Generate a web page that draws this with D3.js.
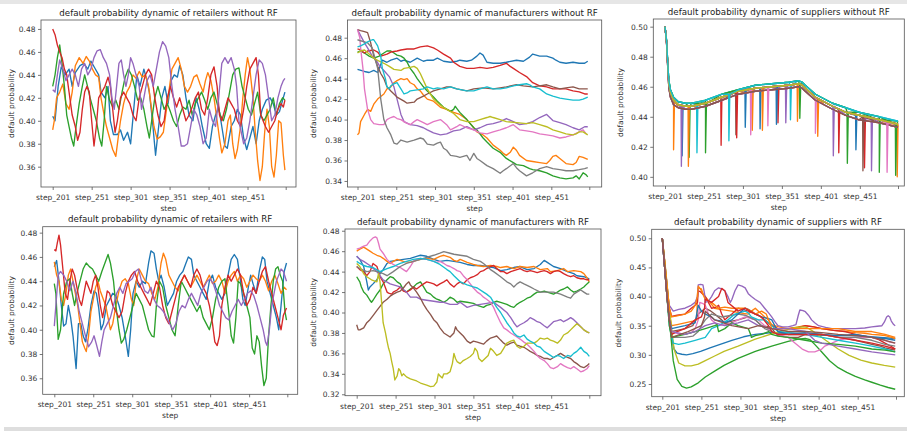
<!DOCTYPE html>
<html>
<head>
<meta charset="utf-8">
<script src="https://cdn.jsdelivr.net/npm/d3@7"></script>
<style>
  body { margin: 0; background: #fff; }
  svg { display: block; font-family: "DejaVu Sans", sans-serif; }
</style>
</head>
<body>
<div id="chart"></div>
<script>
// ---- data ([step, default probability]) ----
var tab10 = ["#1f77b4","#ff7f0e","#2ca02c","#d62728","#9467bd","#8c564b","#e377c2","#7f7f7f","#bcbd22","#17becf"];
var xTickSteps = [201, 251, 301, 351, 401, 451, 500];
var xTickLabels = ["step_201", "step_251", "step_301", "step_351", "step_401", "step_451", ""];

// retailers without RF (blue, orange, green, red, purple)
var retNoRF = [
  [[201,.404],[204,.400],[208,.430],[212,.447],[217,.440],[222,.445],[226,.430],[230,.442],[236,.448],[241,.450],[246,.445],[250,.452],[255,.446],[260,.440],[263,.425],[268,.420],[272,.430],[275,.400],[279,.388],[284,.388],[288,.392],[292,.383],[297,.390],[301,.380],[305,.410],[309,.440],[313,.430],[318,.445],[322,.435],[325,.425],[329,.400],[333,.370],[337,.395],[341,.420],[345,.430],[349,.415],[353,.435],[357,.440],[361,.438],[364,.448],[368,.440],[372,.420],[376,.405],[381,.400],[385,.420],[389,.410],[393,.395],[398,.380],[402,.376],[406,.395],[410,.405],[414,.412],[418,.395],[422,.378],[425,.376],[430,.395],[434,.400],[438,.410],[442,.405],[446,.385],[450,.375],[454,.385],[458,.395],[462,.380],[466,.400],[470,.410],[475,.418],[480,.420],[484,.415],[488,.405],[492,.408],[496,.418],[499,.425]],
  [[201,.392],[203,.400],[206,.420],[210,.425],[214,.432],[218,.415],[222,.410],[226,.425],[230,.448],[235,.455],[240,.450],[244,.456],[248,.452],[252,.445],[256,.440],[260,.438],[263,.420],[267,.405],[270,.395],[274,.385],[278,.375],[282,.369],[285,.385],[288,.400],[292,.415],[296,.425],[300,.430],[304,.440],[308,.437],[312,.443],[316,.438],[320,.440],[324,.430],[328,.410],[331,.395],[335,.384],[339,.386],[343,.390],[347,.410],[351,.430],[354,.445],[358,.450],[362,.455],[366,.445],[370,.430],[374,.425],[378,.430],[382,.438],[386,.440],[390,.432],[394,.425],[397,.435],[400,.442],[404,.435],[408,.420],[412,.400],[415,.385],[418,.372],[422,.380],[426,.400],[429,.405],[432,.380],[435,.367],[438,.375],[442,.395],[445,.420],[448,.440],[451,.455],[454,.445],[458,.420],[461,.390],[464,.365],[467,.348],[470,.360],[473,.390],[476,.410],[479,.395],[482,.360],[485,.351],[488,.370],[491,.400],[494,.398],[497,.370],[499,.357]],
  [[201,.430],[204,.440],[207,.455],[210,.466],[213,.450],[216,.430],[219,.405],[222,.395],[225,.385],[228,.378],[231,.395],[235,.415],[239,.430],[242,.440],[245,.432],[249,.420],[253,.410],[257,.400],[261,.385],[264,.378],[267,.400],[270,.430],[274,.418],[278,.412],[282,.418],[286,.410],[290,.425],[294,.438],[298,.445],[302,.440],[306,.430],[310,.418],[314,.420],[318,.410],[322,.395],[325,.385],[328,.400],[332,.420],[336,.430],[340,.420],[344,.410],[348,.415],[352,.408],[356,.400],[360,.395],[364,.405],[368,.412],[372,.410],[376,.418],[380,.405],[384,.415],[388,.420],[392,.425],[396,.418],[400,.410],[404,.420],[408,.425],[412,.415],[416,.405],[420,.400],[424,.410],[428,.425],[432,.440],[436,.445],[440,.446],[444,.430],[448,.420],[452,.410],[456,.405],[460,.415],[464,.425],[468,.405],[472,.400],[476,.405],[480,.410],[484,.420],[488,.405],[492,.415],[496,.420],[499,.418]],
  [[201,.480],[204,.475],[207,.466],[210,.460],[213,.455],[216,.445],[219,.440],[222,.425],[226,.405],[230,.395],[233,.383],[236,.390],[239,.410],[242,.425],[245,.430],[248,.425],[251,.400],[254,.378],[257,.395],[260,.420],[264,.425],[268,.430],[272,.438],[275,.430],[278,.410],[281,.390],[284,.400],[288,.420],[292,.425],[296,.420],[300,.415],[304,.405],[308,.400],[312,.420],[316,.430],[320,.440],[324,.445],[328,.440],[332,.420],[336,.405],[340,.395],[344,.400],[348,.420],[352,.430],[356,.420],[360,.412],[364,.420],[368,.410],[372,.400],[376,.405],[380,.412],[384,.420],[388,.425],[392,.410],[396,.405],[400,.420],[404,.440],[408,.447],[412,.430],[415,.405],[418,.400],[422,.410],[426,.420],[430,.415],[434,.410],[438,.400],[442,.395],[446,.410],[450,.430],[454,.445],[458,.450],[462,.455],[465,.440],[468,.405],[471,.400],[474,.395],[478,.390],[482,.395],[486,.400],[490,.410],[494,.415],[497,.412],[499,.418]],
  [[201,.427],[204,.425],[207,.440],[210,.453],[214,.445],[218,.435],[222,.440],[226,.445],[230,.440],[234,.430],[238,.445],[242,.450],[246,.440],[250,.445],[254,.455],[258,.461],[262,.462],[266,.455],[270,.450],[274,.440],[277,.420],[280,.410],[283,.430],[286,.450],[289,.453],[292,.440],[295,.430],[298,.440],[301,.455],[304,.450],[308,.440],[312,.430],[315,.410],[318,.420],[322,.435],[326,.440],[330,.430],[334,.445],[338,.460],[342,.469],[346,.465],[350,.455],[354,.430],[358,.410],[362,.395],[366,.378],[370,.378],[374,.380],[378,.395],[382,.410],[386,.405],[390,.395],[394,.380],[398,.385],[402,.410],[406,.400],[410,.395],[414,.420],[418,.450],[422,.455],[426,.450],[430,.455],[434,.445],[437,.430],[440,.400],[443,.390],[446,.380],[450,.385],[454,.400],[458,.420],[462,.440],[466,.453],[470,.450],[474,.440],[478,.420],[482,.400],[486,.405],[490,.420],[494,.430],[497,.435],[499,.437]]
];

// retailers with RF
var retRF = [
  [[201,.452],[204,.457],[207,.440],[210,.420],[213,.403],[216,.405],[219,.420],[222,.410],[225,.395],[229,.368],[232,.405],[235,.405],[238,.395],[241,.390],[244,.400],[248,.420],[252,.432],[255,.430],[258,.418],[261,.400],[264,.405],[268,.420],[272,.425],[276,.430],[280,.428],[284,.420],[288,.410],[292,.395],[296,.378],[299,.400],[302,.430],[306,.440],[310,.435],[314,.440],[318,.438],[322,.455],[325,.465],[329,.463],[332,.450],[335,.440],[338,.445],[342,.435],[346,.420],[350,.425],[354,.430],[358,.440],[362,.445],[366,.448],[370,.455],[373,.460],[377,.458],[380,.445],[384,.440],[388,.435],[392,.430],[396,.425],[400,.440],[404,.445],[408,.435],[412,.430],[416,.425],[420,.430],[424,.445],[428,.458],[432,.462],[436,.458],[440,.440],[443,.425],[446,.420],[450,.435],[453,.445],[456,.438],[460,.430],[464,.448],[468,.460],[471,.458],[474,.440],[478,.430],[482,.420],[486,.410],[489,.400],[492,.420],[496,.448],[499,.455]],
  [[201,.456],[204,.445],[207,.440],[210,.425],[213,.420],[216,.430],[219,.445],[222,.450],[225,.440],[228,.430],[231,.420],[234,.405],[237,.390],[240,.385],[242,.382],[245,.395],[248,.415],[251,.425],[254,.435],[257,.440],[260,.432],[264,.425],[267,.420],[270,.410],[273,.400],[276,.405],[280,.420],[284,.432],[288,.440],[292,.442],[296,.438],[300,.425],[303,.420],[306,.440],[310,.450],[314,.445],[318,.440],[322,.438],[326,.430],[330,.425],[334,.435],[338,.455],[341,.463],[344,.458],[348,.445],[352,.440],[356,.435],[360,.432],[364,.440],[368,.445],[372,.440],[376,.435],[380,.440],[384,.445],[388,.440],[392,.435],[396,.440],[400,.445],[404,.438],[408,.440],[412,.445],[416,.440],[420,.430],[424,.440],[428,.445],[432,.448],[436,.440],[440,.445],[444,.442],[448,.435],[452,.440],[456,.445],[460,.442],[464,.440],[468,.445],[472,.440],[476,.432],[480,.440],[484,.445],[488,.438],[492,.430],[496,.435],[499,.433]],
  [[201,.438],[203,.430],[206,.392],[209,.400],[213,.430],[217,.440],[221,.442],[224,.430],[227,.420],[230,.430],[234,.440],[238,.450],[242,.455],[246,.452],[250,.450],[254,.445],[258,.440],[262,.448],[266,.455],[270,.462],[273,.455],[277,.440],[280,.420],[284,.400],[287,.389],[290,.392],[294,.400],[298,.410],[302,.420],[306,.430],[310,.425],[314,.420],[318,.410],[322,.400],[326,.395],[329,.394],[332,.420],[336,.440],[340,.435],[344,.420],[348,.410],[352,.400],[356,.395],[360,.420],[364,.440],[368,.435],[372,.430],[376,.425],[380,.420],[384,.415],[388,.420],[392,.410],[396,.405],[400,.400],[404,.410],[408,.425],[412,.435],[416,.440],[420,.442],[424,.420],[428,.395],[431,.389],[434,.410],[437,.440],[440,.438],[444,.430],[448,.420],[452,.410],[455,.385],[458,.380],[461,.395],[464,.390],[467,.370],[470,.354],[473,.360],[476,.395],[479,.420],[482,.440],[485,.450],[488,.452],[491,.445],[494,.440],[497,.415],[499,.408]],
  [[201,.466],[203,.465],[205,.472],[207,.478],[209,.470],[212,.450],[215,.430],[218,.425],[221,.440],[224,.450],[227,.445],[230,.435],[233,.425],[236,.420],[239,.430],[242,.440],[245,.435],[248,.430],[251,.440],[254,.445],[257,.435],[260,.420],[263,.410],[266,.420],[269,.432],[272,.430],[276,.420],[280,.415],[284,.410],[288,.415],[292,.430],[296,.440],[300,.445],[304,.448],[308,.440],[312,.435],[316,.430],[320,.425],[324,.420],[328,.430],[332,.440],[336,.435],[340,.420],[344,.410],[348,.405],[352,.415],[356,.425],[360,.435],[364,.440],[368,.445],[372,.440],[376,.435],[380,.445],[384,.450],[388,.445],[392,.435],[396,.430],[400,.420],[404,.405],[407,.390],[410,.387],[413,.395],[416,.420],[420,.435],[424,.445],[428,.440],[432,.445],[436,.450],[440,.445],[444,.430],[448,.420],[452,.425],[456,.435],[460,.430],[464,.440],[468,.448],[472,.452],[476,.440],[480,.430],[484,.420],[488,.410],[492,.400],[495,.412],[499,.418]],
  [[201,.403],[203,.420],[206,.445],[209,.448],[213,.445],[217,.440],[221,.432],[225,.440],[229,.430],[233,.415],[237,.405],[241,.395],[245,.386],[249,.390],[252,.395],[255,.388],[259,.378],[262,.390],[265,.400],[269,.405],[273,.410],[277,.420],[281,.430],[285,.435],[289,.430],[293,.438],[297,.440],[301,.442],[305,.448],[309,.450],[313,.440],[317,.432],[321,.430],[325,.435],[329,.425],[333,.420],[337,.418],[341,.415],[345,.410],[349,.405],[353,.400],[357,.405],[361,.415],[365,.420],[369,.418],[373,.425],[377,.430],[381,.425],[385,.420],[389,.430],[393,.435],[397,.440],[401,.442],[405,.438],[409,.430],[413,.420],[417,.415],[421,.410],[425,.408],[429,.415],[433,.420],[437,.425],[441,.420],[445,.425],[449,.430],[453,.432],[457,.428],[461,.420],[465,.410],[469,.400],[472,.390],[474,.387],[477,.400],[480,.420],[483,.430],[486,.440],[489,.445],[492,.450],[495,.448],[499,.440]]
];

// manufacturers without RF (tab10 order)
var manNoRF = [
  [[201,.449],[210,.447],[216,.446],[222,.448],[227,.446],[233,.458],[239,.456],[244,.458],[252,.460],[257,.457],[261,.458],[269,.456],[278,.460],[286,.457],[291,.458],[299,.458],[304,.460],[312,.457],[321,.456],[329,.457],[333,.458],[342,.457],[348,.458],[355,.462],[359,.465],[363,.463],[368,.456],[376,.455],[385,.455],[393,.456],[406,.458],[415,.457],[423,.461],[427,.464],[436,.462],[445,.462],[453,.460],[457,.458],[462,.456],[470,.455],[479,.456],[487,.455],[494,.455],[498,.457]],
  [[201,.385],[203,.387],[205,.398],[210,.405],[214,.410],[218,.408],[222,.415],[227,.420],[235,.425],[239,.430],[244,.432],[248,.436],[252,.438],[257,.440],[261,.439],[265,.440],[269,.436],[274,.434],[278,.430],[282,.428],[286,.424],[291,.420],[299,.418],[308,.412],[316,.410],[325,.407],[333,.405],[342,.400],[351,.392],[355,.388],[363,.385],[368,.382],[376,.375],[385,.370],[389,.367],[393,.365],[398,.368],[402,.373],[406,.370],[410,.365],[419,.360],[427,.359],[436,.358],[445,.357],[449,.360],[453,.364],[457,.365],[462,.362],[470,.357],[479,.356],[483,.358],[487,.364],[492,.363],[498,.361]],
  [[201,.466],[205,.467],[210,.465],[216,.462],[222,.460],[229,.462],[235,.465],[239,.467],[244,.467],[248,.465],[252,.463],[257,.462],[261,.460],[265,.456],[269,.450],[274,.445],[278,.440],[286,.432],[291,.428],[299,.422],[304,.418],[312,.412],[321,.408],[325,.410],[327,.413],[329,.411],[333,.407],[342,.400],[351,.392],[355,.390],[363,.382],[368,.378],[376,.372],[385,.368],[393,.362],[402,.358],[406,.356],[415,.355],[423,.352],[427,.351],[436,.350],[445,.348],[453,.345],[462,.343],[470,.342],[479,.343],[483,.345],[487,.342],[492,.348],[496,.346],[498,.344]],
  [[201,.469],[205,.468],[210,.465],[214,.467],[222,.468],[227,.466],[231,.462],[239,.464],[244,.466],[252,.467],[257,.468],[265,.469],[274,.469],[282,.471],[291,.472],[299,.470],[304,.468],[312,.464],[321,.460],[325,.456],[333,.452],[342,.450],[351,.450],[359,.451],[368,.450],[376,.451],[385,.453],[393,.455],[398,.452],[402,.450],[410,.446],[419,.442],[427,.436],[436,.433],[445,.432],[453,.430],[462,.430],[470,.430],[479,.428],[487,.427],[494,.425],[498,.425]],
  [[201,.488],[205,.482],[210,.475],[214,.470],[220,.462],[225,.458],[229,.453],[235,.448],[242,.442],[248,.432],[252,.420],[257,.405],[261,.398],[269,.395],[278,.394],[286,.392],[291,.390],[299,.387],[308,.385],[316,.386],[325,.389],[333,.390],[342,.393],[351,.390],[359,.392],[368,.395],[376,.396],[385,.398],[393,.401],[402,.398],[410,.395],[419,.396],[427,.398],[436,.402],[445,.405],[453,.399],[462,.397],[470,.395],[479,.392],[487,.390],[494,.393],[498,.393]],
  [[201,.488],[205,.487],[210,.486],[214,.485],[218,.475],[222,.462],[227,.452],[231,.445],[235,.440],[239,.432],[244,.428],[252,.422],[261,.418],[265,.416],[274,.417],[278,.420],[286,.423],[291,.425],[299,.428],[308,.430],[316,.432],[321,.432],[329,.430],[342,.428],[351,.430],[363,.431],[376,.430],[385,.431],[393,.432],[406,.434],[415,.433],[427,.432],[436,.433],[445,.434],[453,.432],[462,.430],[470,.431],[479,.432],[487,.430],[494,.430],[498,.430]],
  [[201,.488],[204,.480],[205,.470],[208,.450],[210,.430],[214,.410],[218,.400],[222,.396],[229,.395],[235,.395],[239,.400],[244,.402],[248,.403],[252,.401],[257,.400],[263,.397],[269,.395],[274,.398],[278,.400],[286,.397],[291,.395],[299,.398],[308,.400],[316,.395],[321,.390],[329,.393],[333,.395],[342,.392],[351,.390],[359,.387],[368,.386],[376,.388],[385,.390],[393,.392],[402,.395],[410,.390],[419,.389],[427,.388],[436,.386],[445,.385],[453,.384],[462,.382],[470,.383],[479,.385],[487,.388],[492,.390],[496,.386]],
  [[201,.478],[205,.477],[210,.476],[214,.475],[220,.470],[227,.450],[231,.420],[235,.400],[239,.392],[244,.385],[248,.377],[252,.376],[257,.380],[261,.379],[265,.378],[274,.380],[282,.382],[286,.381],[291,.376],[299,.375],[304,.377],[308,.378],[312,.372],[316,.370],[321,.365],[329,.364],[333,.363],[342,.365],[346,.360],[351,.367],[355,.362],[359,.360],[368,.355],[376,.352],[385,.3475],[389,.350],[393,.352],[402,.357],[406,.353],[410,.350],[419,.345],[427,.348],[436,.352],[445,.354],[453,.352],[462,.351],[470,.350],[479,.350],[487,.351],[494,.352],[498,.353]],
  [[201,.465],[205,.467],[210,.468],[216,.464],[222,.460],[229,.457],[235,.455],[242,.452],[248,.449],[257,.448],[261,.450],[269,.451],[274,.452],[278,.450],[282,.445],[291,.430],[299,.420],[308,.414],[316,.410],[325,.406],[333,.400],[342,.398],[351,.398],[359,.400],[368,.402],[372,.403],[376,.402],[385,.400],[393,.398],[406,.397],[419,.396],[427,.397],[436,.395],[445,.393],[453,.390],[462,.388],[470,.386],[479,.385],[483,.386],[487,.388],[492,.388],[498,.385]],
  [[201,.471],[205,.472],[210,.474],[214,.476],[220,.478],[222,.478],[227,.472],[231,.462],[233,.450],[237,.440],[239,.432],[242,.430],[244,.433],[248,.435],[252,.436],[257,.430],[261,.425],[265,.426],[269,.428],[278,.429],[286,.430],[291,.432],[299,.430],[304,.431],[312,.430],[321,.432],[329,.430],[342,.428],[351,.428],[359,.430],[368,.432],[376,.430],[385,.430],[393,.431],[402,.433],[410,.434],[419,.435],[423,.434],[427,.432],[436,.430],[445,.425],[453,.423],[462,.421],[470,.420],[479,.419],[487,.419],[492,.420],[498,.422]]
];

// manufacturers with RF
var manRF = [
  [[201,.455],[205,.452],[210,.445],[214,.430],[216,.422],[218,.425],[222,.428],[227,.432],[231,.438],[235,.442],[240,.448],[244,.450],[253,.451],[261,.452],[270,.453],[278,.455],[283,.456],[291,.455],[300,.452],[308,.450],[317,.451],[326,.450],[334,.449],[343,.447],[351,.446],[360,.446],[368,.445],[377,.444],[386,.441],[394,.442],[403,.444],[411,.445],[420,.442],[429,.443],[437,.447],[442,.451],[446,.449],[454,.445],[463,.443],[472,.440],[480,.438],[484,.436],[493,.435],[500,.433]],
  [[201,.460],[205,.462],[210,.464],[214,.462],[218,.460],[222,.458],[227,.456],[231,.455],[235,.453],[240,.450],[244,.448],[248,.450],[253,.452],[257,.451],[261,.450],[270,.449],[278,.451],[283,.452],[291,.453],[300,.452],[308,.455],[313,.456],[321,.454],[326,.451],[330,.450],[334,.452],[343,.449],[347,.448],[351,.447],[356,.446],[364,.445],[373,.446],[381,.445],[386,.444],[394,.445],[403,.443],[411,.445],[420,.444],[429,.445],[437,.442],[446,.443],[450,.440],[459,.441],[467,.443],[472,.440],[480,.441],[489,.440],[493,.438],[497,.434],[500,.430]],
  [[201,.435],[205,.430],[207,.425],[210,.420],[214,.417],[218,.412],[220,.410],[222,.412],[227,.418],[231,.422],[235,.428],[240,.432],[244,.435],[248,.434],[253,.430],[257,.428],[261,.422],[265,.420],[270,.423],[274,.425],[278,.428],[283,.430],[287,.425],[291,.420],[296,.418],[300,.415],[304,.413],[308,.412],[313,.410],[317,.412],[321,.415],[326,.413],[330,.410],[334,.411],[343,.410],[351,.409],[356,.407],[364,.405],[368,.407],[373,.408],[377,.410],[381,.411],[386,.410],[394,.408],[399,.406],[403,.405],[407,.408],[411,.410],[416,.412],[420,.414],[424,.415],[429,.418],[433,.420],[437,.420],[442,.421],[446,.420],[454,.418],[459,.420],[463,.422],[467,.423],[472,.425],[476,.422],[480,.420],[484,.421],[489,.423],[493,.425],[497,.428],[500,.430]],
  [[201,.445],[205,.442],[210,.440],[214,.436],[218,.440],[222,.448],[227,.445],[231,.435],[235,.430],[240,.420],[242,.419],[246,.418],[248,.420],[253,.422],[257,.425],[261,.421],[265,.420],[270,.422],[274,.425],[278,.423],[283,.426],[287,.428],[291,.430],[296,.429],[300,.428],[304,.426],[308,.428],[313,.430],[317,.432],[321,.428],[326,.425],[330,.428],[334,.430],[338,.428],[343,.432],[347,.434],[351,.435],[356,.437],[360,.440],[364,.441],[368,.443],[373,.445],[377,.446],[381,.443],[386,.440],[390,.440],[394,.438],[399,.440],[403,.441],[407,.442],[411,.443],[416,.441],[420,.440],[424,.441],[429,.440],[433,.439],[437,.440],[442,.441],[446,.440],[450,.438],[454,.440],[459,.441],[463,.440],[467,.438],[472,.436],[476,.435],[480,.436],[484,.434],[489,.433],[493,.433],[497,.432],[500,.432]],
  [[201,.455],[205,.452],[210,.450],[218,.446],[227,.440],[235,.432],[244,.428],[257,.425],[265,.420],[270,.415],[278,.415],[283,.413],[291,.412],[300,.411],[308,.410],[313,.410],[321,.408],[330,.408],[334,.410],[343,.405],[351,.407],[360,.408],[368,.409],[377,.410],[386,.405],[394,.400],[399,.395],[403,.390],[407,.386],[411,.388],[416,.390],[420,.392],[424,.395],[429,.393],[433,.391],[437,.390],[442,.387],[446,.385],[450,.388],[454,.391],[459,.392],[463,.393],[467,.391],[472,.393],[476,.395],[480,.393],[484,.390],[489,.386],[493,.383],[497,.381],[500,.380]],
  [[201,.388],[203,.383],[205,.383],[210,.385],[214,.390],[218,.393],[222,.397],[227,.402],[231,.406],[235,.410],[240,.413],[244,.416],[248,.418],[253,.420],[257,.421],[261,.424],[265,.428],[268,.430],[270,.427],[274,.424],[278,.420],[283,.414],[287,.408],[291,.403],[296,.398],[300,.393],[304,.390],[308,.385],[313,.380],[317,.378],[321,.376],[326,.380],[328,.386],[330,.383],[334,.380],[338,.377],[343,.372],[347,.370],[351,.372],[356,.371],[360,.370],[364,.369],[368,.372],[373,.375],[377,.376],[381,.377],[386,.373],[390,.370],[394,.368],[399,.370],[403,.371],[407,.368],[411,.367],[416,.366],[420,.364],[424,.362],[429,.360],[433,.358],[437,.357],[442,.355],[446,.355],[450,.354],[454,.356],[459,.358],[463,.360],[467,.358],[472,.356],[476,.355],[480,.352],[484,.350],[489,.347],[493,.346],[497,.348],[500,.350]],
  [[201,.462],[205,.463],[210,.465],[214,.466],[218,.470],[222,.473],[225,.474],[227,.473],[229,.468],[231,.462],[235,.458],[240,.452],[244,.449],[248,.447],[253,.445],[257,.444],[261,.442],[265,.440],[270,.445],[274,.450],[278,.452],[283,.453],[287,.452],[291,.452],[296,.451],[300,.450],[304,.449],[308,.450],[313,.448],[317,.446],[321,.445],[326,.443],[330,.441],[334,.440],[338,.436],[343,.432],[347,.428],[351,.424],[356,.420],[360,.418],[364,.415],[368,.413],[373,.410],[377,.405],[381,.398],[386,.390],[390,.385],[394,.383],[399,.380],[403,.378],[407,.376],[411,.374],[416,.371],[420,.369],[424,.366],[429,.362],[433,.358],[437,.355],[442,.353],[446,.350],[450,.346],[454,.345],[459,.347],[463,.350],[467,.348],[472,.346],[476,.345],[480,.347],[484,.345],[489,.342],[493,.343],[497,.345],[500,.348]],
  [[201,.445],[205,.443],[214,.440],[222,.441],[227,.440],[235,.438],[240,.436],[248,.440],[257,.445],[265,.448],[274,.450],[283,.452],[291,.454],[300,.456],[308,.458],[313,.4595],[321,.458],[326,.457],[334,.456],[343,.455],[351,.452],[360,.450],[364,.448],[373,.442],[377,.440],[386,.435],[394,.430],[399,.428],[403,.425],[407,.428],[411,.430],[416,.428],[424,.425],[429,.423],[437,.420],[446,.420],[454,.420],[463,.418],[472,.415],[476,.414],[480,.418],[484,.420],[489,.422],[493,.420],[497,.418],[500,.418]],
  [[201,.448],[205,.445],[210,.438],[214,.435],[220,.432],[227,.430],[229,.438],[231,.430],[233,.410],[235,.390],[238,.380],[240,.372],[242,.365],[244,.360],[246,.352],[248,.345],[250,.334],[253,.338],[255,.345],[257,.343],[259,.338],[261,.340],[265,.337],[270,.335],[274,.334],[278,.333],[283,.331],[287,.330],[291,.329],[296,.3275],[300,.328],[302,.330],[304,.332],[306,.340],[308,.338],[311,.336],[313,.340],[317,.340],[321,.342],[324,.350],[326,.360],[328,.355],[330,.352],[334,.350],[338,.353],[343,.355],[347,.357],[351,.360],[353,.365],[356,.362],[358,.355],[362,.352],[366,.355],[370,.358],[373,.365],[377,.362],[381,.358],[386,.360],[390,.365],[394,.370],[399,.372],[403,.373],[407,.367],[411,.365],[416,.367],[420,.370],[424,.370],[429,.370],[433,.372],[437,.375],[442,.374],[446,.375],[450,.373],[454,.372],[459,.370],[463,.373],[467,.378],[472,.380],[476,.383],[480,.386],[484,.389],[489,.386],[493,.383],[497,.381],[500,.380]],
  [[201,.450],[205,.448],[210,.446],[214,.445],[222,.444],[231,.440],[240,.443],[248,.445],[257,.448],[265,.450],[274,.452],[283,.453],[291,.452],[300,.450],[308,.447],[317,.442],[321,.440],[326,.436],[330,.433],[334,.430],[343,.427],[351,.425],[356,.424],[364,.420],[368,.418],[373,.415],[377,.410],[381,.405],[386,.400],[390,.395],[394,.390],[399,.385],[403,.380],[407,.377],[411,.376],[416,.378],[420,.374],[424,.372],[429,.370],[433,.367],[437,.366],[442,.362],[446,.360],[450,.358],[454,.356],[459,.358],[463,.357],[467,.355],[472,.358],[476,.357],[480,.360],[484,.362],[489,.366],[493,.362],[497,.360],[500,.357]]
];

// suppliers without RF: band edges of the shared curve, and each supplier's dips [step, value before dip, bottom of dip]
var supBandHigh = [[201,.500],[203,.491],[205,.472],[206,.464],[208,.458],[212,.453],[218,.450],[227,.449],[235,.449],[253,.451],[274,.455],[295,.458],[317,.461],[338,.462],[360,.463],[372,.464],[377,.463],[381,.461],[394,.455],[405,.452],[416,.449],[433,.446],[450,.443],[476,.440],[500,.437]];
var supBandMid  = [[201,.500],[203,.490],[205,.470],[206,.462],[208,.456],[212,.451],[218,.448],[227,.447],[235,.447],[253,.449],[274,.453],[295,.457],[317,.459],[338,.460],[360,.461],[372,.462],[377,.461],[381,.459],[394,.453],[405,.450],[416,.447],[433,.443],[450,.441],[476,.438],[500,.435]];
var supBandLow  = [[201,.500],[203,.489],[205,.468],[206,.459],[208,.453],[212,.448],[218,.446],[227,.445],[235,.445],[253,.447],[274,.451],[295,.455],[317,.457],[338,.458],[360,.459],[372,.460],[377,.459],[381,.457],[394,.451],[405,.448],[416,.445],[433,.441],[450,.438],[476,.436],[500,.433]];
var supNoRFBand = ["mid","low","high","mid","low","low","mid","mid","mid","high","mid","mid","high","mid","low","low","mid","mid","mid","high"];
var supNoRFDips = [
  [[223,.4475,.414],[323,.459,.432],[446,.441,.418]],
  [[212,.451,.418],[313,.4585,.431],[397,.452,.427],[499,.435,.400]],
  [[232,.447,.413],[374,.462,.439],[476,.438,.403]],
  [[273,.453,.421],[346,.4605,.436],[457,.4395,.406]],
  [[222,.4475,.407],[356,.461,.436],[466,.439,.404]],
  [[292,.4565,.428],[455,.440,.404]],
  [[311,.4585,.428],[394,.453,.429]],
  [],
  [],
  [[242,.448,.416],[362,.461,.438]],
  [[304,.458,.433],[344,.4603,.435]],
  [[231,.447,.407],[326,.4592,.431],[371,.462,.437]],
  [[253,.449,.416],[435,.443,.409],[497,.435,.401]],
  [[293,.4565,.426],[424,.445,.416]],
  [[417,.447,.414]],
  [],
  [[333,.4597,.434],[486,.436,.403]],
  [],
  [],
  [[283,.455,.424]]
];

// suppliers with RF
var supRF = [
  [[201,.50],[204,.46],[207,.42],[210,.37],[213,.33],[216,.31],[220,.303],[226,.301],[232,.300],[240,.302],[250,.306],[262,.312],[275,.318],[290,.325],[305,.331],[320,.335],[340,.338],[360,.338],[380,.336],[400,.334],[420,.333],[440,.333],[460,.332],[480,.330],[499,.328]],
  [[201,.50],[204,.46],[207,.41],[210,.37],[213,.35],[220,.352],[230,.355],[240,.358],[245,.36],[246,.405],[247,.415],[251,.413],[253,.405],[256,.40],[262,.39],[268,.38],[275,.378],[290,.375],[300,.372],[311,.37],[315,.375],[320,.38],[324,.375],[328,.37],[332,.365],[337,.36],[341,.352],[345,.35],[350,.348],[362,.345],[375,.348],[384,.35],[395,.348],[405,.345],[420,.342],[435,.340],[448,.338],[460,.337],[469,.335],[480,.334],[486,.333],[492,.331],[499,.328]],
  [[201,.50],[205,.44],[210,.36],[215,.29],[220,.258],[226,.246],[232,.243],[238,.245],[247,.252],[256,.262],[268,.272],[280,.282],[298,.294],[320,.306],[341,.315],[362,.323],[375,.327],[384,.328],[390,.326],[396,.318],[405,.305],[415,.29],[426,.278],[437,.27],[448,.263],[460,.257],[469,.253],[480,.248],[490,.244],[499,.241]],
  [[201,.50],[204,.46],[207,.42],[210,.38],[213,.366],[220,.368],[230,.37],[238,.38],[243,.385],[246,.39],[247,.41],[250,.408],[256,.40],[264,.38],[270,.382],[273,.385],[277,.37],[281,.36],[285,.365],[290,.37],[298,.38],[304,.378],[311,.375],[320,.37],[324,.368],[332,.36],[341,.35],[349,.345],[362,.345],[375,.347],[384,.35],[395,.348],[405,.345],[420,.342],[435,.34],[448,.335],[460,.332],[469,.33],[478,.326],[486,.32],[492,.316],[499,.31]],
  [[201,.50],[204,.45],[207,.41],[210,.385],[215,.375],[222,.378],[230,.38],[238,.385],[243,.39],[246,.40],[247,.42],[250,.421],[253,.42],[255,.405],[256,.39],[260,.392],[264,.40],[268,.41],[273,.415],[277,.413],[281,.41],[285,.40],[288,.39],[290,.395],[294,.41],[298,.42],[303,.418],[307,.415],[311,.405],[315,.40],[320,.395],[326,.39],[332,.38],[337,.372],[341,.365],[345,.357],[349,.35],[355,.348],[362,.348],[368,.35],[372,.352],[375,.368],[377,.377],[381,.376],[384,.374],[388,.368],[392,.36],[396,.355],[401,.35],[410,.347],[418,.345],[426,.345],[435,.345],[448,.345],[460,.346],[469,.348],[476,.349],[482,.35],[485,.356],[488,.365],[490,.367],[492,.365],[494,.358],[497,.352],[499,.35]],
  [[201,.50],[204,.45],[207,.40],[210,.36],[213,.34],[220,.342],[230,.345],[240,.35],[247,.37],[256,.38],[262,.376],[268,.37],[277,.36],[281,.355],[290,.358],[298,.36],[311,.365],[320,.36],[328,.35],[337,.348],[341,.345],[349,.333],[362,.33],[375,.33],[384,.335],[395,.335],[405,.335],[418,.332],[426,.33],[437,.328],[448,.325],[460,.321],[469,.318],[480,.315],[486,.312],[492,.31],[499,.308]],
  [[201,.50],[204,.45],[207,.40],[210,.36],[213,.34],[220,.337],[230,.335],[238,.338],[243,.345],[247,.36],[249,.39],[253,.388],[256,.385],[260,.37],[264,.36],[273,.35],[281,.352],[290,.355],[298,.36],[307,.365],[315,.362],[324,.36],[332,.35],[341,.34],[349,.335],[362,.33],[371,.32],[380,.31],[388,.305],[396,.305],[405,.31],[409,.315],[418,.32],[426,.325],[437,.328],[448,.33],[460,.33],[469,.33],[478,.328],[486,.325],[492,.322],[499,.32]],
  [[201,.50],[204,.45],[207,.40],[210,.36],[213,.33],[220,.33],[230,.33],[240,.332],[247,.34],[251,.35],[256,.36],[264,.37],[268,.368],[277,.365],[290,.368],[298,.37],[307,.368],[320,.36],[332,.345],[341,.34],[349,.337],[362,.335],[384,.335],[405,.335],[426,.33],[448,.33],[469,.325],[486,.318],[499,.315]],
  [[201,.50],[205,.45],[210,.38],[216,.31],[222,.286],[230,.281],[238,.281],[247,.284],[256,.29],[268,.298],[280,.306],[298,.315],[320,.327],[341,.336],[355,.341],[368,.346],[380,.348],[386,.347],[392,.342],[400,.335],[410,.325],[426,.31],[440,.299],[455,.291],[469,.286],[485,.282],[499,.279]],
  [[201,.50],[204,.45],[207,.40],[210,.35],[215,.32],[222,.318],[230,.32],[243,.325],[256,.33],[264,.345],[273,.35],[285,.36],[294,.37],[307,.375],[311,.372],[315,.365],[324,.36],[332,.36],[337,.355],[341,.35],[349,.34],[362,.338],[384,.335],[405,.33],[426,.325],[448,.32],[469,.315],[486,.31],[499,.305]],
  [[201,.50],[204,.45],[207,.40],[210,.36],[213,.345],[220,.347],[230,.35],[243,.355],[247,.385],[251,.375],[256,.37],[264,.365],[268,.36],[277,.358],[281,.355],[290,.36],[298,.37],[307,.38],[311,.378],[320,.37],[328,.365],[337,.362],[341,.36],[345,.35],[349,.34],[362,.335],[375,.337],[384,.338],[405,.335],[426,.333],[448,.335],[469,.33],[486,.328],[499,.325]],
  [[201,.50],[204,.46],[207,.42],[210,.38],[213,.365],[220,.367],[230,.37],[238,.375],[243,.385],[246,.40],[247,.418],[251,.41],[256,.395],[264,.39],[273,.38],[281,.382],[290,.38],[298,.38],[307,.38],[315,.375],[320,.37],[328,.375],[334,.37],[337,.36],[341,.345],[349,.345],[362,.345],[384,.345],[405,.345],[426,.345],[448,.34],[469,.34],[486,.335],[499,.33]],
  [[201,.50],[204,.45],[207,.40],[210,.35],[213,.33],[220,.332],[230,.335],[243,.34],[256,.345],[268,.35],[271,.352],[273,.34],[281,.345],[290,.355],[298,.35],[311,.345],[314,.335],[315,.33],[320,.333],[328,.335],[337,.34],[341,.335],[349,.332],[362,.33],[384,.325],[405,.32],[426,.318],[448,.315],[469,.31],[486,.308],[499,.305]],
  [[201,.50],[204,.45],[207,.40],[210,.36],[213,.335],[220,.34],[230,.345],[243,.36],[251,.365],[255,.38],[256,.395],[264,.39],[273,.40],[277,.414],[281,.41],[285,.39],[298,.375],[307,.38],[320,.37],[328,.365],[337,.35],[341,.34],[349,.335],[362,.335],[384,.335],[405,.335],[426,.33],[448,.325],[469,.32],[486,.315],[499,.31]],
  [[201,.50],[204,.45],[207,.40],[210,.36],[213,.34],[230,.335],[243,.34],[256,.35],[268,.355],[281,.35],[298,.355],[311,.36],[324,.35],[341,.345],[362,.345],[384,.34],[396,.325],[405,.32],[426,.315],[448,.31],[469,.305],[486,.302],[499,.30]],
  [[201,.50],[204,.45],[207,.40],[210,.36],[213,.33],[234,.34],[251,.35],[255,.365],[256,.375],[268,.36],[290,.35],[311,.345],[324,.35],[341,.345],[362,.34],[384,.34],[405,.338],[426,.335],[448,.333],[469,.33],[486,.325],[499,.32]]
];

var titles = [
  "default probability dynamic of retailers without RF",
  "default probability dynamic of manufacturers without RF",
  "default probability dynamic of suppliers without RF",
  "default probability dynamic of retailers with RF",
  "default probability dynamic of manufacturers with RF",
  "default probability dynamic of suppliers with RF"
];
var yTicksRet = [0.36, 0.38, 0.40, 0.42, 0.44, 0.46, 0.48];
var yTicksManNoRF = [0.34, 0.36, 0.38, 0.40, 0.42, 0.44, 0.46, 0.48];
var yTicksManRF = [0.32, 0.34, 0.36, 0.38, 0.40, 0.42, 0.44, 0.46, 0.48];
var yTicksSupNoRF = [0.40, 0.42, 0.44, 0.46, 0.48, 0.50];
var yTicksSupRF = [0.25, 0.30, 0.35, 0.40, 0.45, 0.50];

// build supplier-without-RF series from the band curve plus its dips
var bands = {high: supBandHigh, mid: supBandMid, low: supBandLow};
var supNoRF = supNoRFDips.map(function(dips, i) {
  var pts = bands[supNoRFBand[i]].slice();
  dips.forEach(function(d) {
    pts.push([d[0] - 0.4, d[1]], [d[0], d[2]], [d[0] + 1.2, d[1]]);
  });
  return pts.sort(function(a, b) { return a[0] - b[0]; });
});

// ---- layout ----
var svg = d3.select("#chart").append("svg").attr("width", 907).attr("height", 431);
svg.append("rect").attr("width", 907).attr("height", 431).attr("fill", "#fff");
svg.append("rect").attr("x", 0).attr("y", 0).attr("width", 907).attr("height", 4).attr("fill", "#e6e6e6");
svg.append("rect").attr("x", 4).attr("y", 427).attr("width", 903).attr("height", 4).attr("fill", "#dedede");

svg.append("defs").append("clipPath").attr("id", "cutTop")
  .append("rect").attr("x", 0).attr("y", 0).attr("width", 907).attr("height", 211);

var panels = [
  {box: [41, 20, 296, 187], x0: 52.7, x1: 285.7, yDom: [0.3423, 0.4878], yTicks: yTicksRet, fmt: ".2f", data: retNoRF, ylabX: 14, title: titles[0], cut: true},
  {box: [347.5, 20, 601.7, 187], x0: 357.5, x1: 589.3, yDom: [0.3341, 0.4973], yTicks: yTicksManNoRF, fmt: ".2f", data: manNoRF, ylabX: 316, title: titles[1]},
  {box: [653.3, 19, 904.3, 186], x0: 665, x1: 898, yDom: [0.3939, 0.5051], yTicks: yTicksSupNoRF, fmt: ".2f", data: supNoRF, ylabX: 623, title: titles[2]},
  {box: [42.7, 226.7, 297.7, 394.3], x0: 54.3, x1: 287.3, yDom: [0.3468, 0.4849], yTicks: yTicksRet, fmt: ".2f", data: retRF, ylabX: 14, title: titles[3]},
  {box: [345, 229, 601, 395.7], x0: 356.7, x1: 589.3, yDom: [0.3186, 0.4817], yTicks: yTicksManRF, fmt: ".2f", data: manRF, ylabX: 316, title: titles[4]},
  {box: [651.7, 229.3, 904.3, 396.7], x0: 662.3, x1: 896, yDom: [0.2282, 0.5154], yTicks: yTicksSupRF, fmt: ".2f", data: supRF, ylabX: 621, title: titles[5]}
];

panels.forEach(function(p) {
  var L = p.box[0], T = p.box[1], R = p.box[2], B = p.box[3];
  var x = d3.scaleLinear().domain([201, 500]).range([p.x0, p.x1]);
  var y = d3.scaleLinear().domain(p.yDom).range([B, T]);
  var g = svg.append("g");

  var line = d3.line().x(function(d) { return x(d[0]); }).y(function(d) { return y(d[1]); });
  g.selectAll("path.series")
    .data(p.data)
    .enter()
    .append("path")
    .attr("class", "series")
    .attr("d", line)
    .attr("fill", "none")
    .attr("stroke", function(d, i) { return tab10[i % 10]; })
    .attr("stroke-width", 1.35)
    .attr("stroke-linejoin", "round");

  g.append("rect")
    .attr("x", L).attr("y", T).attr("width", R - L).attr("height", B - T)
    .attr("fill", "none").attr("stroke", "#555").attr("stroke-width", 0.8);

  var xAxis = d3.axisBottom(x).tickValues(xTickSteps)
    .tickFormat(function(d, i) { return xTickLabels[i]; })
    .tickSize(3).tickPadding(4.5).tickSizeOuter(0);
  var xg = g.append("g").attr("transform", "translate(0," + B + ")").call(xAxis);
  xg.select(".domain").remove();

  var yAxis = d3.axisLeft(y).tickValues(p.yTicks).tickFormat(d3.format(p.fmt))
    .tickSize(3).tickPadding(2.5).tickSizeOuter(0);
  var yg = g.append("g").attr("transform", "translate(" + L + ",0)").call(yAxis);
  yg.select(".domain").remove();

  [xg, yg].forEach(function(a) {
    a.selectAll("line").attr("stroke", "#555").attr("stroke-width", 0.8);
    a.selectAll("text").attr("fill", "#333").style("font-size", "7.5px").style("font-family", "DejaVu Sans");
  });

  g.append("text")
    .attr("x", (L + R) / 2).attr("y", T - 4.5)
    .attr("text-anchor", "middle").attr("fill", "#222")
    .style("font-size", "8.7px")
    .text(p.title);

  var xl = g.append("text")
    .attr("x", (L + R) / 2).attr("y", B + 24)
    .attr("text-anchor", "middle").attr("fill", "#333")
    .style("font-size", "7.5px")
    .text("step");
  if (p.cut) xl.attr("clip-path", "url(#cutTop)");

  g.append("text")
    .attr("transform", "translate(" + p.ylabX + "," + ((T + B) / 2) + ") rotate(-90)")
    .attr("text-anchor", "middle").attr("fill", "#333")
    .style("font-size", "7.5px")
    .text("default probability");
});
</script>
</body>
</html>
